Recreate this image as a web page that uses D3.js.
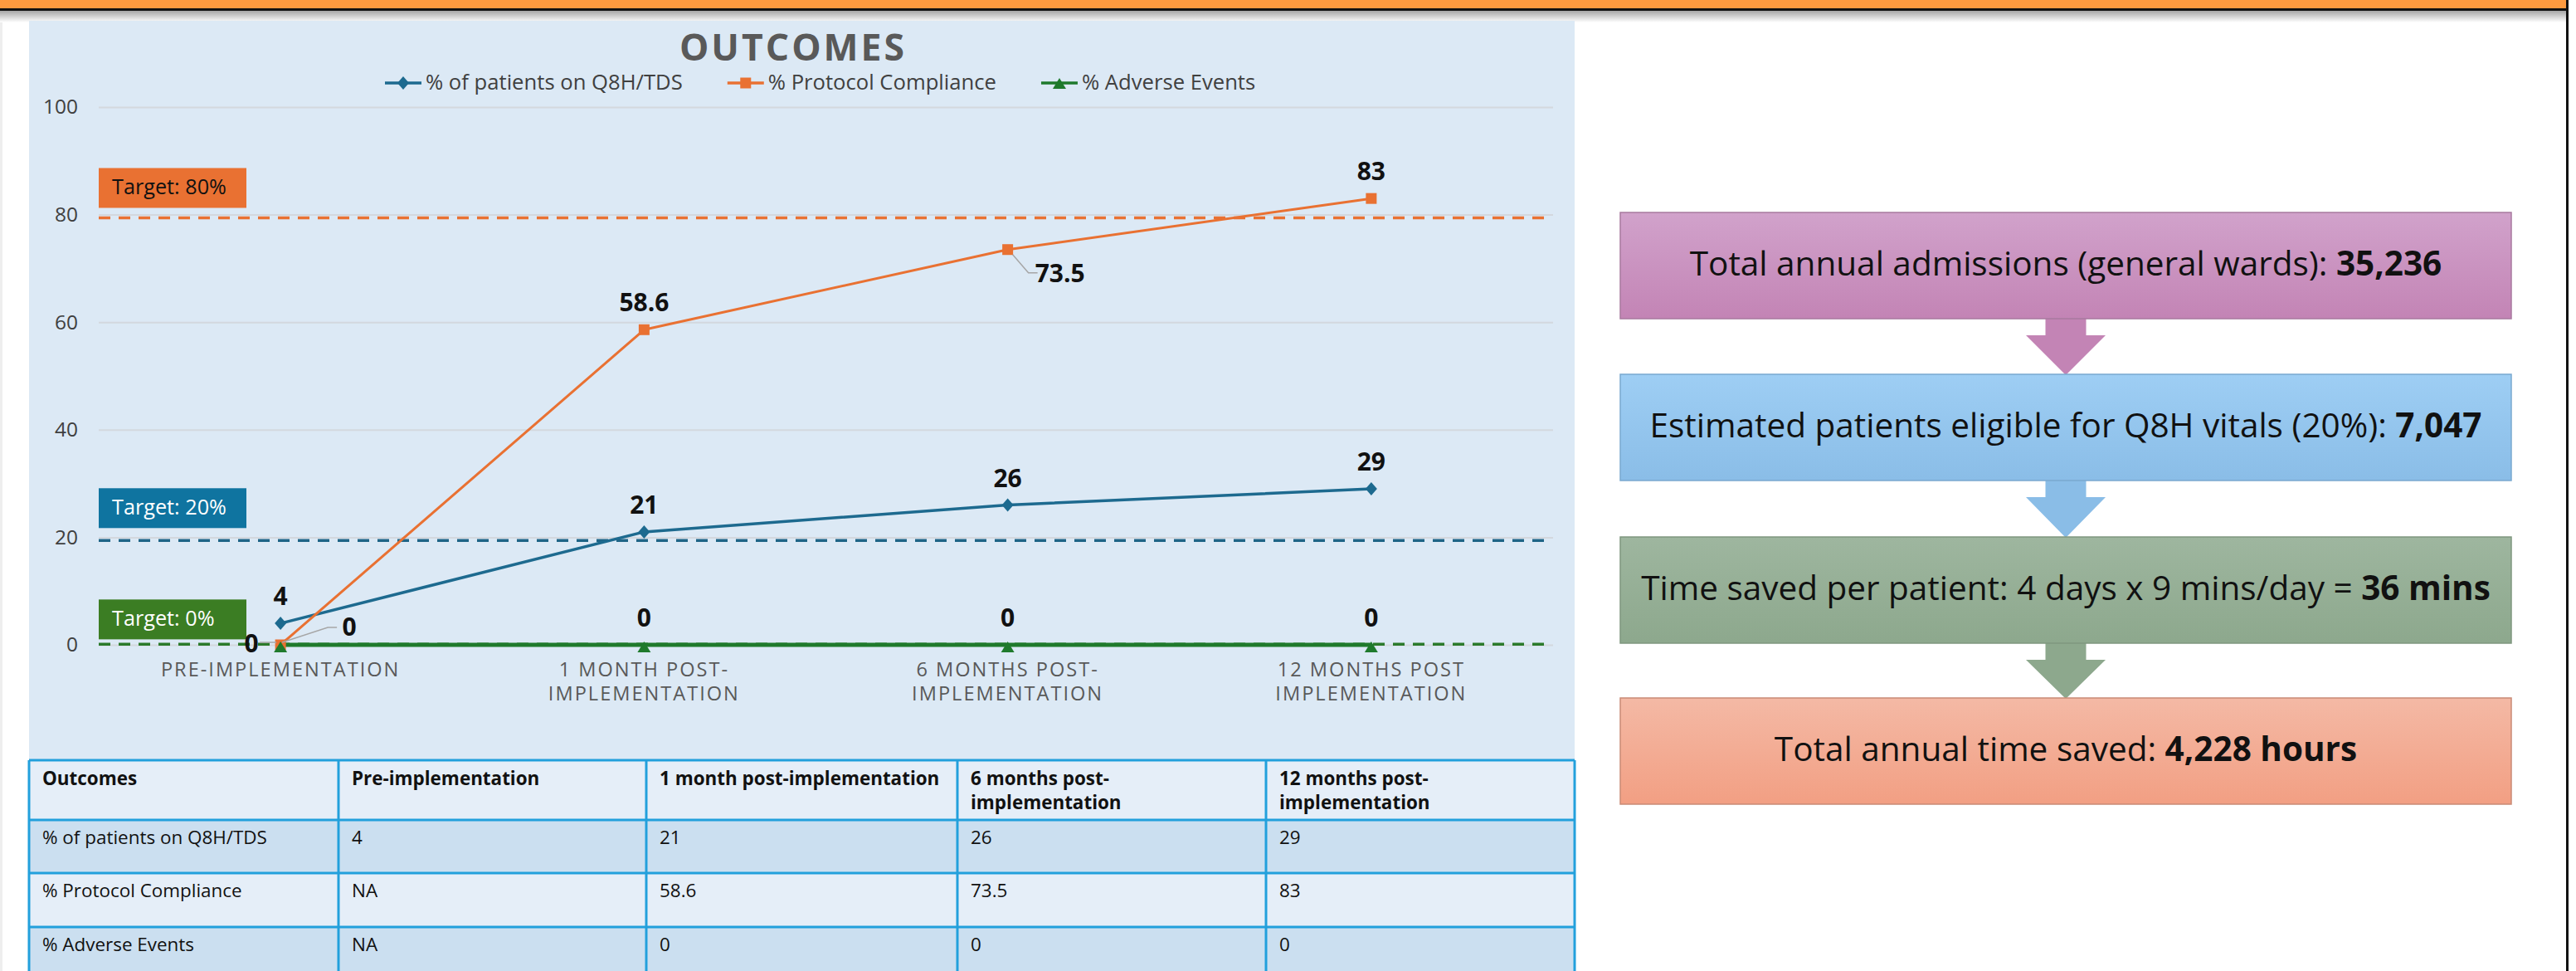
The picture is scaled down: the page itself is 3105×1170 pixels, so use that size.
<!DOCTYPE html>
<html><head><meta charset="utf-8">
<script src="https://cdn.jsdelivr.net/npm/d3@7"></script>
<style>
html,body{margin:0;padding:0;background:#fff;}
svg{display:block;}
</style></head><body>
<svg id="c" width="3105" height="1170"></svg>
<script>
// ---------- DATA ----------
const categories = ["Pre-implementation","1 month post-implementation","6 months post-implementation","12 months post-implementation"];
const axisLabels = [["PRE-IMPLEMENTATION"],["1 MONTH POST-","IMPLEMENTATION"],["6 MONTHS POST-","IMPLEMENTATION"],["12 MONTHS POST","IMPLEMENTATION"]];
const seriesNames = ["% of patients on Q8H/TDS","% Protocol Compliance","% Adverse Events"];
const q8hValues = [4,21,26,29];
const complianceValues = [0,58.6,73.5,83];
const adverseValues = [0,0,0,0];
const yTicks = [0,20,40,60,80,100];
const targetValues = [79.4,19.4,0.1];
const targetLabels = ["Target: 80%","Target: 20%","Target: 0%"];
const tableHeader = ["Outcomes","Pre-implementation","1 month post-implementation","6 months post-|implementation","12 months post-|implementation"];
const tableRows = [
  ["% of patients on Q8H/TDS","4","21","26","29"],
  ["% Protocol Compliance","NA","58.6","73.5","83"],
  ["% Adverse Events","NA","0","0","0"]
];
const flowPlain = ["Total annual admissions (general wards): ","Estimated patients eligible for Q8H vitals (20%): ","Time saved per patient: 4 days x 9 mins/day = ","Total annual time saved: "];
const flowBold = ["35,236","7,047","36 mins","4,228 hours"];

// ---------- STYLE / LAYOUT ----------
const FONT = "'Open Sans', 'Noto Sans', sans-serif";
const colors = ["#1d6a8f","#e97132","#1f7a2c"];
const targetColors = ["#e97132","#1f6587","#2b7a2b"];
const targetBoxColors = ["#e97132","#0f74a0","#3b7d23"];
const targetTextColors = ["#111","#fff","#fff"];
const svg = d3.select("#c");
const defs = svg.append("defs");

function fit(sel, target){
  const w = sel.node().getComputedTextLength();
  const fs = parseFloat(sel.attr("font-size"));
  const n = fs*target/w;
  sel.attr("font-size", n);
  return n;
}
function fitSize(str, target, base, weight){
  const t = svg.append("text").attr("font-family",FONT).attr("font-size",base).attr("font-weight",weight||"normal").text(str);
  const f = fit(t,target); t.remove(); return f;
}

// page frame
const sh = defs.append("linearGradient").attr("id","shadow").attr("x1",0).attr("x2",0).attr("y1",0).attr("y2",1);
sh.append("stop").attr("offset",0).attr("stop-color","#000").attr("stop-opacity",0.35);
sh.append("stop").attr("offset",1).attr("stop-color","#000").attr("stop-opacity",0);
svg.append("rect").attr("x",0).attr("y",13).attr("width",3094).attr("height",14).attr("fill","url(#shadow)");
svg.append("rect").attr("x",0).attr("y",0).attr("width",3096).attr("height",10).attr("fill","#fd9a3f");
svg.append("rect").attr("x",0).attr("y",10).attr("width",3096).attr("height",3).attr("fill","#111");
svg.append("rect").attr("x",3093).attr("y",0).attr("width",3).attr("height",1170).attr("fill","#111");
svg.append("rect").attr("x",0).attr("y",27).attr("width",3).attr("height",1143).attr("fill","#eeeeee");

// chart background
svg.append("rect").attr("x",35).attr("y",25).attr("width",1863).attr("height",1145).attr("fill","#dce9f5");

const x = d3.scalePoint().domain(categories).range([119,1872]).padding(0.5);
const y = d3.scaleLinear().domain([0,100]).range([777,129]);

// gridlines
const grid = svg.append("g").attr("transform","translate(119,0)")
  .call(d3.axisLeft(y).tickValues(yTicks).tickSize(-(1872-119)).tickFormat(""));
grid.select(".domain").remove();
grid.selectAll("line").attr("stroke","#d3d8de").attr("stroke-width",2);

// y tick labels
const yFS = fitSize("100",42,24);
const yax = svg.append("g").attr("transform","translate(119,0)")
  .call(d3.axisLeft(y).tickValues(yTicks).tickSize(0).tickPadding(25));
yax.select(".domain").remove();
yax.selectAll("text").attr("font-family",FONT).attr("font-size",yFS).attr("fill","#404040");

// title
const title = svg.append("text").attr("x",956).attr("y",73).attr("text-anchor","middle")
  .attr("font-family",FONT).attr("font-weight","bold").attr("font-size",40).attr("letter-spacing",3)
  .attr("fill","#595959").text("OUTCOMES");
fit(title,277);

// marker paths
const markerPaths = [
  "M0,-8L7,0L0,8L-7,0Z",
  "M-6.5,-6.5H6.5V6.5H-6.5Z",
  "M0,-6L8,7H-8Z"
];

// legend
const legend = svg.append("g");
let lx = 464;
const legFS = fitSize(seriesNames[0],310,24);
seriesNames.forEach((n,i)=>{
  const g = legend.append("g");
  g.append("line").attr("x1",lx).attr("x2",lx+44).attr("y1",100).attr("y2",100).attr("stroke",colors[i]).attr("stroke-width",3.5);
  g.append("path").attr("d",markerPaths[i]).attr("transform",`translate(${lx+22},100)`).attr("fill",colors[i]);
  const t = g.append("text").attr("x",lx+49).attr("y",108).attr("font-family",FONT).attr("font-size",legFS).attr("fill","#404040").text(n);
  lx += 49 + t.node().getComputedTextLength() + 54;
});

// target lines
targetValues.forEach((v,i)=>{
  svg.append("line").attr("x1",119).attr("x2",1865).attr("y1",y(v)).attr("y2",y(v))
    .attr("stroke",targetColors[i]).attr("stroke-width",3.5).attr("stroke-dasharray","14,10");
});

// x labels
const xl = svg.append("g");
let xlFS = null;
axisLabels.forEach((lines,i)=>{
  lines.forEach((s,j)=>{
    const t = xl.append("text").attr("x",x(categories[i])).attr("y",815+29*j).attr("text-anchor","middle")
      .attr("font-family",FONT).attr("font-size",xlFS||21).attr("letter-spacing",2).attr("fill","#595959").text(s);
    if(xlFS===null){ xlFS = fit(t,293); }
  });
});

// series
const allSeries = [q8hValues, complianceValues, adverseValues];
const widths = [3.5,3,5];
const line = d3.line().x((d,i)=>x(categories[i])).y(d=>y(d));
allSeries.forEach((vals,k)=>{
  svg.append("path").datum(vals).attr("d",line).attr("fill","none").attr("stroke",colors[k]).attr("stroke-width",widths[k]).attr("stroke-linejoin","round");
});
allSeries.forEach((vals,k)=>{
  svg.append("g").selectAll("path").data(vals).join("path")
    .attr("d",markerPaths[k])
    .attr("transform",(d,i)=>`translate(${x(categories[i])},${y(d)+(k===2?2:0)})`)
    .attr("fill",colors[k]);
});

// target boxes
const boxOffsets = [-60,-63,-54];
const tgtFS = fitSize(targetLabels[0],138,22);
targetValues.forEach((v,i)=>{
  const by = y(v)+boxOffsets[i];
  svg.append("rect").attr("x",119).attr("y",by).attr("width",178).attr("height",48).attr("fill",targetBoxColors[i]);
  svg.append("text").attr("x",135).attr("y",by+32).attr("font-family",FONT).attr("font-size",tgtFS)
    .attr("fill",targetTextColors[i]).text(targetLabels[i]);
});

// data labels
const labelFS = fitSize("58.6",60,25,"bold");
const labelOffsets = {"1-0":[83,-20],"1-2":[63,30],"2-0":[-35,0]};
const leaders = {"1-0":[[2,-3],[57,-21],[68,-21]],"1-2":[[6,6],[25,28],[36,28]],"2-0":[[-25,-3],[-5,-3]]};
allSeries.forEach((vals,k)=>{
  vals.forEach((v,i)=>{
    const px = x(categories[i]), py = y(v);
    const key = k+"-"+i;
    const off = labelOffsets[key] || [0,-31];
    if(leaders[key]){
      svg.append("polyline").attr("points",leaders[key].map(p=>[px+p[0],py+p[1]].join(",")).join(" "))
        .attr("fill","none").attr("stroke","#a6a6a6").attr("stroke-width",1.5);
    }
    svg.append("text").attr("x",px+off[0]).attr("y",py+off[1]+9).attr("text-anchor","middle")
      .attr("font-family",FONT).attr("font-weight","bold").attr("font-size",labelFS).attr("fill","#111")
      .text(d3.format("~")(v));
  });
});

// table
const colX = [35,408,779,1154,1526,1898];
const rowY = [916,988,1052,1117,1184];
const rowFill = ["#e5eef8","#cbdff0","#e5eef8","#cbdff0"];
const tbl = svg.append("g");
rowFill.forEach((f,r)=>{
  tbl.append("rect").attr("x",colX[0]).attr("y",rowY[r]).attr("width",colX[5]-colX[0]).attr("height",rowY[r+1]-rowY[r]).attr("fill",f);
});
const tblFS = fitSize(tableRows[0][0],271,20);
tableHeader.forEach((h,c)=>{
  h.split("|").forEach((s,j)=>{
    tbl.append("text").attr("x",colX[c]+16).attr("y",rowY[0]+30+29*j).attr("font-family",FONT).attr("font-weight","bold")
      .attr("font-size",tblFS).attr("fill","#111").text(s);
  });
});
tableRows.forEach((row,r)=>{
  row.forEach((s,c)=>{
    tbl.append("text").attr("x",colX[c]+16).attr("y",rowY[r+1]+29).attr("font-family",FONT)
      .attr("font-size",tblFS).attr("fill","#111").text(s);
  });
});
rowY.forEach(yy=>tbl.append("line").attr("x1",colX[0]).attr("x2",colX[5]).attr("y1",yy).attr("y2",yy).attr("stroke","#22a0dc").attr("stroke-width",3));
colX.forEach(xx=>tbl.append("line").attr("x1",xx).attr("x2",xx).attr("y1",rowY[0]).attr("y2",1170).attr("stroke","#22a0dc").attr("stroke-width",3));

// flowchart
const boxTops = [256,451,647,841];
const boxX = 1953, boxW = 1074, boxH = 128;
const grads = [["#d1a2cb","#c384b5","#a8799f"],["#9ecef4","#8abde7","#7aa9cf"],["#9eb69f","#8da88d","#7f977f"],["#f4b9a5","#f29f83","#c98a76"]];
grads.forEach((g,i)=>{
  const lg = defs.append("linearGradient").attr("id","g"+i).attr("x1",0).attr("x2",0).attr("y1",0).attr("y2",1);
  lg.append("stop").attr("offset",0).attr("stop-color",g[0]);
  lg.append("stop").attr("offset",1).attr("stop-color",g[1]);
});
const flow = svg.append("g");
const cx = boxX + boxW/2;
boxTops.forEach((t,i)=>{
  if(i<3){
    const b = t+boxH, nt = boxTops[i+1];
    flow.append("path").attr("d",`M${cx-24.5},${b-1}H${cx+24.5}V${b+20}H${cx+48}L${cx},${nt+1}L${cx-48},${b+20}H${cx-24.5}Z`)
      .attr("fill",grads[i][1]);
  }
});
let flowFS = null;
boxTops.forEach((t,i)=>{
  flow.append("rect").attr("x",boxX).attr("y",t).attr("width",boxW).attr("height",boxH)
    .attr("fill",`url(#g${i})`).attr("stroke",grads[i][2]).attr("stroke-width",1.5);
  const tx = flow.append("text").attr("x",cx).attr("y",t+boxH/2+12).attr("text-anchor","middle")
    .attr("font-family",FONT).attr("font-size",flowFS||34).attr("fill","#111");
  tx.append("tspan").text(flowPlain[i]);
  tx.append("tspan").attr("font-weight","bold").text(flowBold[i]);
  if(i===1){ flowFS = fit(tx,1003); flow.selectAll("text").attr("font-size",flowFS); }
});
</script>
</body></html>
